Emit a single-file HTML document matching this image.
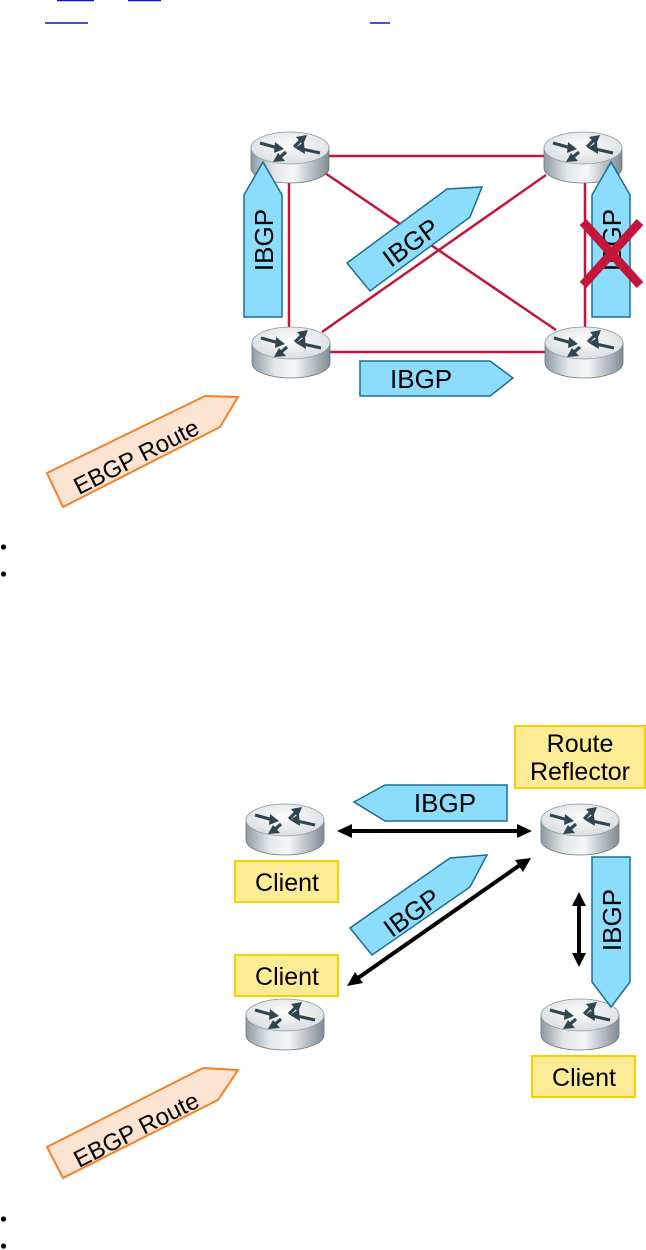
<!DOCTYPE html>
<html><head><meta charset="utf-8"><style>html,body{margin:0;padding:0;background:#fff}svg{display:block}</style></head>
<body>
<svg width="646" height="1250" viewBox="0 0 646 1250" xmlns="http://www.w3.org/2000/svg" font-family="Liberation Sans, Arial, sans-serif">
<defs>
<linearGradient id="body" x1="0" x2="1" y1="0" y2="0">
<stop offset="0" stop-color="#8e9aa3"/><stop offset="0.3" stop-color="#e4e8ea"/><stop offset="0.55" stop-color="#f6f7f8"/><stop offset="1" stop-color="#7f8b94"/></linearGradient>
<radialGradient id="top" cx="0.5" cy="0.4" r="0.7"><stop offset="0" stop-color="#fdfdfd"/><stop offset="1" stop-color="#d3d8db"/></radialGradient>
<g id="router">
<path d="M1,18 L1,38 A39,15 0 0 0 79,38 L79,18 Z" fill="url(#body)" stroke="#6d7880" stroke-width="0.8"/>
<ellipse cx="40" cy="18" rx="39" ry="16" fill="url(#top)" stroke="#8a949b" stroke-width="0.8"/>
<g fill="#2f4650" stroke="#2f4650" stroke-width="3.2">
<line x1="10" y1="13" x2="28" y2="18"/><polygon points="34,19 25,12 24,23" stroke="none"/>
<line x1="44" y1="17" x2="52" y2="9"/><polygon points="57,5 46,7 53,15" stroke="none"/>
<line x1="70" y1="23" x2="52" y2="19"/><polygon points="45,18 54,12 55,24" stroke="none"/>
<line x1="36" y1="22" x2="29" y2="28"/><polygon points="23,32 35,31 28,23" stroke="none"/>
</g>
</g>
</defs>

<g stroke="#1010d0" stroke-width="1.5">
<line x1="57" y1="0.5" x2="94" y2="0.5"/><line x1="128" y1="0.5" x2="161" y2="0.5"/>
<line x1="45" y1="23" x2="88" y2="23"/><line x1="370" y1="23" x2="390" y2="23"/>
</g>

<g stroke="#c3163a" stroke-width="2.5">
<line x1="320" y1="156" x2="548" y2="156"/>
<line x1="320" y1="352" x2="548" y2="352"/>
<line x1="289" y1="180" x2="289" y2="330"/>
<line x1="585" y1="180" x2="585" y2="330"/>
<line x1="325" y1="173" x2="556" y2="330"/>
<line x1="546" y1="175" x2="322" y2="332"/>
</g>
<use href="#router" x="250" y="130"/>
<use href="#router" x="543" y="130"/>
<use href="#router" x="251" y="325"/>
<use href="#router" x="544" y="325"/>

<g fill="#8cdcfc" stroke="#1b6e96" stroke-width="1.5">
<polygon points="244,195 263,162 282,195 282,317 244,317"/>
<polygon points="592,195 611,162 630,195 630,317 592,317"/>
<polygon points="360,361 490,361 513,378 490,396 360,396"/>
<polygon points="347,263 447,189 482,187 470,217 370,291"/>
</g>
<g font-size="26" fill="#000">
<text transform="translate(273,240) rotate(-90)" text-anchor="middle">IBGP</text>
<text transform="translate(621,240) rotate(-90)" text-anchor="middle">IBGP</text>
<text x="390" y="388">IBGP</text>
<text transform="translate(416,250) rotate(-36)" text-anchor="middle">IBGP</text>
</g>
<g stroke="#c3163a" stroke-width="9">
<line x1="583" y1="222" x2="640" y2="285"/><line x1="640" y1="222" x2="583" y2="285"/>
</g>

<polygon points="47,473 205,396 238,397 220,427 63,507" fill="#fde3d1" stroke="#f0822a" stroke-width="2"/>
<text transform="translate(140,464) rotate(-27)" text-anchor="middle" font-size="24">EBGP Route</text>
<circle cx="3.5" cy="547" r="2.6" fill="#000"/><circle cx="3.5" cy="574" r="2.6" fill="#000"/>

<rect x="515" y="726" width="130" height="62" fill="#fdeb95" stroke="#f7d000" stroke-width="2"/>
<text x="580" y="752" text-anchor="middle" font-size="25">Route</text>
<text x="580" y="780" text-anchor="middle" font-size="25">Reflector</text>
<polygon points="354,802 385,785 507,785 507,821 385,821" fill="#8cdcfc" stroke="#1b6e96" stroke-width="1.5"/>
<text x="445" y="812" text-anchor="middle" font-size="26">IBGP</text>

<use href="#router" x="245" y="802"/>
<use href="#router" x="540" y="802"/>
<use href="#router" x="245" y="997"/>
<use href="#router" x="540" y="997"/>

<rect x="235" y="861" width="103" height="41" fill="#fdeb95" stroke="#f7d000" stroke-width="2"/>
<text x="287" y="891" text-anchor="middle" font-size="25">Client</text>
<rect x="235" y="955" width="103" height="41" fill="#fdeb95" stroke="#f7d000" stroke-width="2"/>
<text x="287" y="985" text-anchor="middle" font-size="25">Client</text>
<rect x="532" y="1056" width="103" height="41" fill="#fdeb95" stroke="#f7d000" stroke-width="2"/>
<text x="584" y="1086" text-anchor="middle" font-size="25">Client</text>

<g stroke="#000" stroke-width="4">
<line x1="350" y1="831" x2="520" y2="831"/>
<line x1="358" y1="978" x2="520" y2="865"/>
<line x1="579" y1="903" x2="579" y2="956"/>
</g>
<g fill="#000">
<polygon points="337,831 352,824 352,838"/><polygon points="532,831 517,824 517,838"/>
<polygon points="347,986 355,972 363,983"/><polygon points="531,858 515,860 523,872"/>
<polygon points="579,892 572,906 586,906"/><polygon points="579,967 572,953 586,953"/>
</g>

<polygon points="350,928 450,858 487,855 470,887 372,955" fill="#8cdcfc" stroke="#1b6e96" stroke-width="1.5"/>
<text transform="translate(417,920) rotate(-36)" text-anchor="middle" font-size="26">IBGP</text>
<polygon points="592,857 630,857 630,982 611,1007 592,982" fill="#8cdcfc" stroke="#1b6e96" stroke-width="1.5"/>
<text transform="translate(621,920) rotate(-90)" text-anchor="middle" font-size="26">IBGP</text>

<polygon points="47,1147 203,1068 238,1070 218,1100 63,1178" fill="#fde3d1" stroke="#f0822a" stroke-width="2"/>
<text transform="translate(140,1137) rotate(-27)" text-anchor="middle" font-size="24">EBGP Route</text>
<circle cx="3.5" cy="1219" r="2.6" fill="#000"/><circle cx="3.5" cy="1246" r="2.6" fill="#000"/>
</svg>
</body></html>
